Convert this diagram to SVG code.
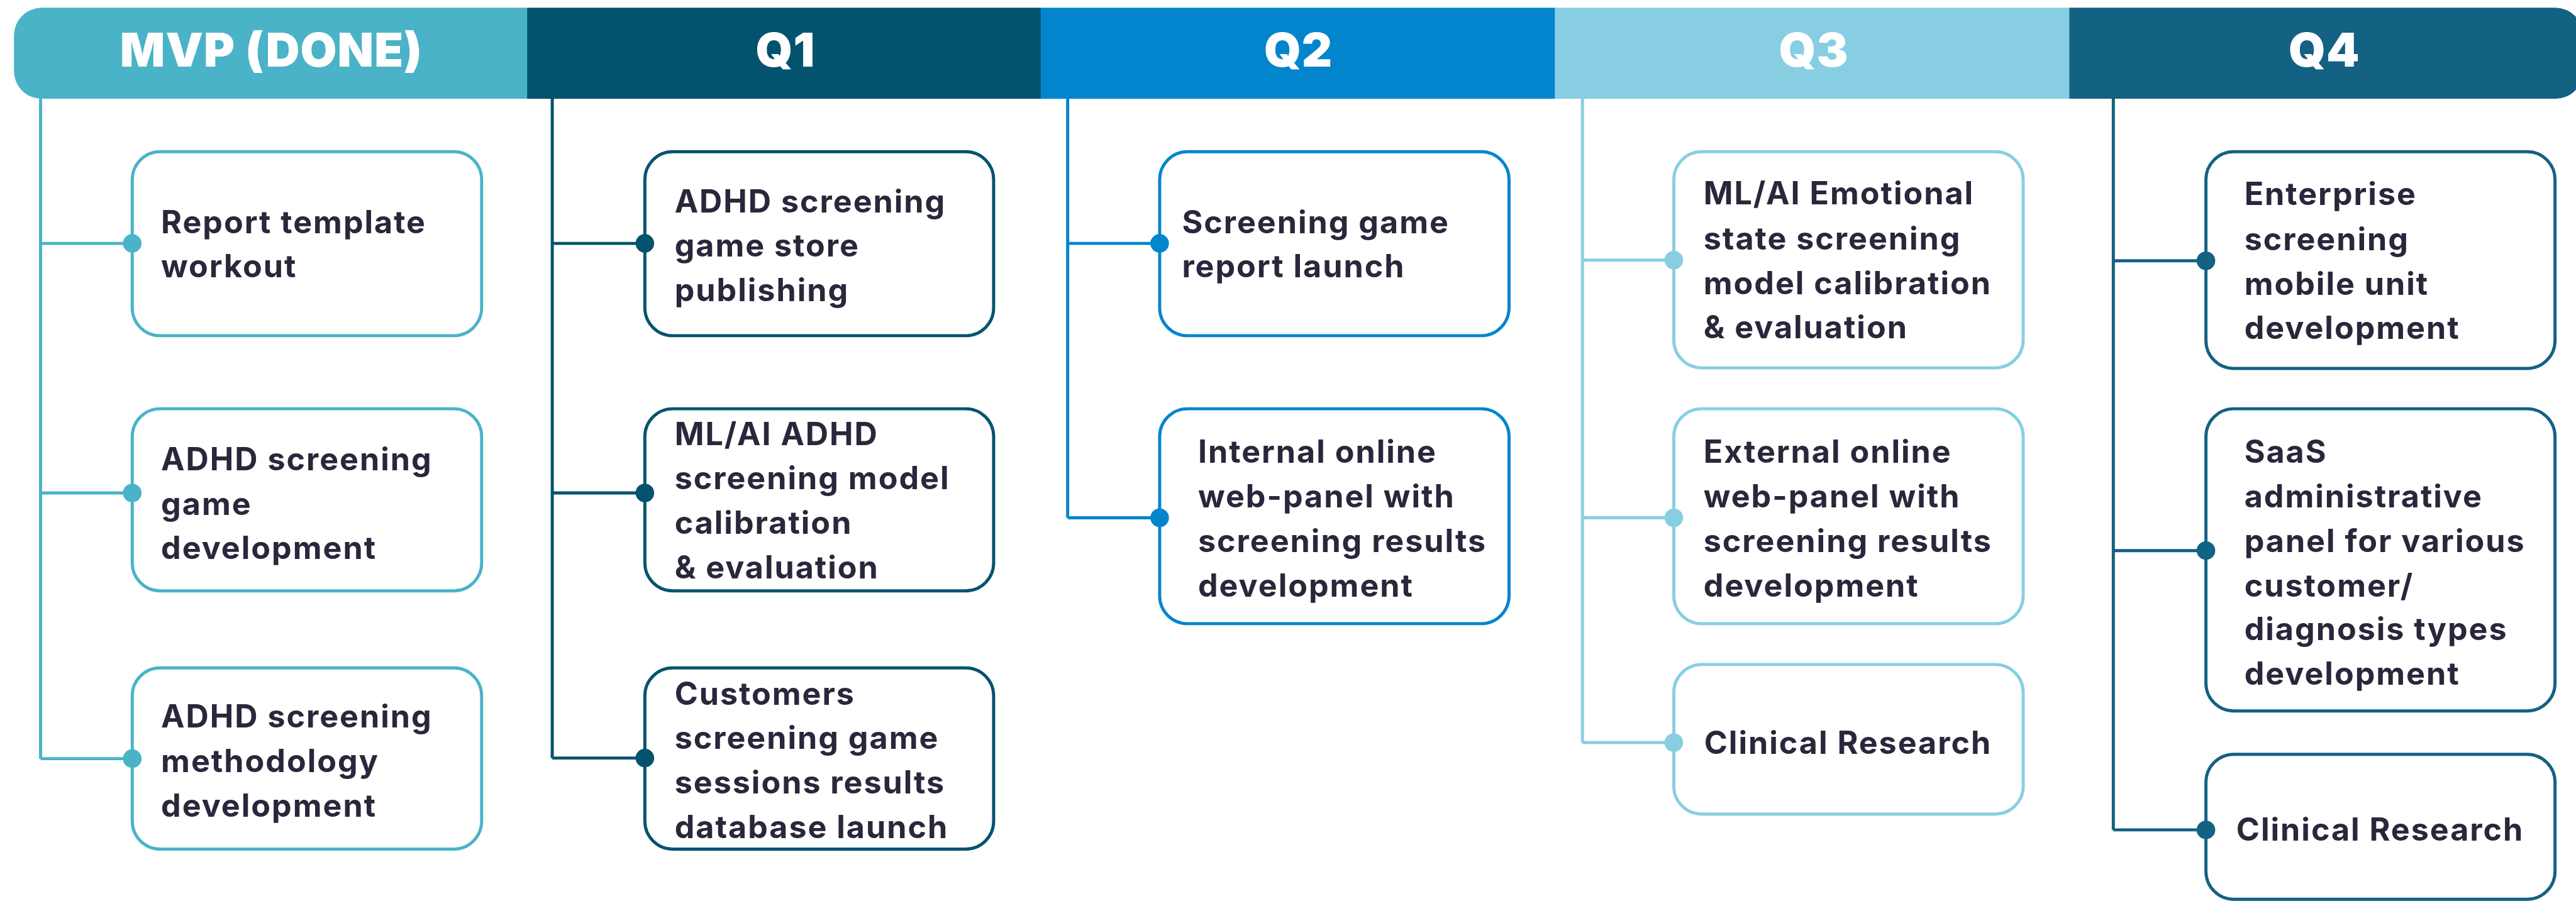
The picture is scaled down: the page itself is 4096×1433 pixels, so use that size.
<svg xmlns="http://www.w3.org/2000/svg" width="4096" height="1433" viewBox="0 0 4096 1433">
  <style>
    .band-label { font-family: Inter, "Open Sans", sans-serif; font-weight: 900; font-size: 76px; letter-spacing: 1px; fill: #ffffff; text-anchor: middle; }
    .card { fill: #ffffff; stroke-width: 5; }
    .card-text { font-family: Inter, "Open Sans", sans-serif; font-weight: 700; font-size: 51px; letter-spacing: 2px; fill: #29273b; }
    .wire { fill: none; stroke-width: 5; stroke-linecap: butt; }
    .mvp { stroke: #4ab3c8; } .mvp-fill { fill: #4ab3c8; }
    .q1 { stroke: #03536f; } .q1-fill { fill: #03536f; }
    .q2 { stroke: #0385cd; } .q2-fill { fill: #0385cd; }
    .q3 { stroke: #88cee3; } .q3-fill { fill: #88cee3; }
    .q4 { stroke: #136183; } .q4-fill { fill: #136183; }
  </style>
  <rect width="4096" height="1433" fill="#ffffff"/>
  <g transform="scale(0.985)">
    <!-- timeline header bands -->
    <g id="band-mvp">
      <path class="mvp-fill" d="M852 12.5 H67.5 A45 45 0 0 0 22.5 57.5 V114.5 A45 45 0 0 0 67.5 159.5 H852 Z"/>
      <text class="band-label" x="438" y="108">MVP (DONE)</text>
    </g>
    <g id="band-q1">
      <rect class="q1-fill" x="851" y="12.5" width="830" height="147"/>
      <text class="band-label" x="1268" y="108">Q1</text>
    </g>
    <g id="band-q2">
      <rect class="q2-fill" x="1680" y="12.5" width="831" height="147"/>
      <text class="band-label" x="2096" y="108">Q2</text>
    </g>
    <g id="band-q3">
      <rect class="q3-fill" x="2510" y="12.5" width="831" height="147"/>
      <text class="band-label" x="2928" y="108">Q3</text>
    </g>
    <g id="band-q4">
      <path class="q4-fill" d="M3340.5 12.5 H4125 A45 45 0 0 1 4170 57.5 V114.5 A45 45 0 0 1 4125 159.5 H3340.5 Z"/>
      <text class="band-label" x="3752" y="108">Q4</text>
    </g>

    <!-- MVP column -->
    <g id="mvp-report-template">
      <rect class="card mvp" x="213.5" y="245" width="564" height="297" rx="45"/>
      <text class="card-text"><tspan x="260" y="377">Report template</tspan><tspan x="260" y="448">workout</tspan></text>
    </g>
    <g id="mvp-game-development">
      <rect class="card mvp" x="213.5" y="660" width="564" height="294" rx="45"/>
      <text class="card-text"><tspan x="260" y="759">ADHD screening</tspan><tspan x="260" y="831">game</tspan><tspan x="260" y="903">development</tspan></text>
    </g>
    <g id="mvp-methodology">
      <rect class="card mvp" x="213.5" y="1078.5" width="564" height="292.5" rx="45"/>
      <text class="card-text"><tspan x="260" y="1175">ADHD screening</tspan><tspan x="260" y="1247">methodology</tspan><tspan x="260" y="1319">development</tspan></text>
    </g>

    <!-- Q1 column -->
    <g id="q1-store-publishing">
      <rect class="card q1" x="1041" y="245" width="563" height="297" rx="45"/>
      <text class="card-text"><tspan x="1089" y="343">ADHD screening</tspan><tspan x="1089" y="414">game store</tspan><tspan x="1089" y="486">publishing</tspan></text>
    </g>
    <g id="q1-model-calibration">
      <rect class="card q1" x="1041" y="660" width="563" height="294" rx="45"/>
      <text class="card-text"><tspan x="1089" y="719">ML/AI ADHD</tspan><tspan x="1089" y="790">screening model</tspan><tspan x="1089" y="862">calibration</tspan><tspan x="1089" y="934">&amp; evaluation</tspan></text>
    </g>
    <g id="q1-results-database">
      <rect class="card q1" x="1041" y="1078.5" width="563" height="292.5" rx="45"/>
      <text class="card-text"><tspan x="1089" y="1138">Customers</tspan><tspan x="1089" y="1209">screening game</tspan><tspan x="1089" y="1281">sessions results</tspan><tspan x="1089" y="1353">database launch</tspan></text>
    </g>

    <!-- Q2 column -->
    <g id="q2-report-launch">
      <rect class="card q2" x="1872" y="245" width="564" height="297" rx="45"/>
      <text class="card-text"><tspan x="1908" y="377">Screening game</tspan><tspan x="1908" y="448">report launch</tspan></text>
    </g>
    <g id="q2-internal-panel">
      <rect class="card q2" x="1872" y="660" width="564" height="347" rx="45"/>
      <text class="card-text"><tspan x="1934" y="747">Internal online</tspan><tspan x="1934" y="819">web-panel with</tspan><tspan x="1934" y="891">screening results</tspan><tspan x="1934" y="963">development</tspan></text>
    </g>

    <!-- Q3 column -->
    <g id="q3-emotional-model">
      <rect class="card q3" x="2702" y="245" width="564" height="349" rx="45"/>
      <text class="card-text"><tspan x="2750" y="330">ML/AI Emotional</tspan><tspan x="2750" y="403">state screening</tspan><tspan x="2750" y="475">model calibration</tspan><tspan x="2750" y="546">&amp; evaluation</tspan></text>
    </g>
    <g id="q3-external-panel">
      <rect class="card q3" x="2702" y="660" width="564" height="347" rx="45"/>
      <text class="card-text"><tspan x="2750" y="747">External online</tspan><tspan x="2750" y="819">web-panel with</tspan><tspan x="2750" y="891">screening results</tspan><tspan x="2750" y="963">development</tspan></text>
    </g>
    <g id="q3-clinical-research">
      <rect class="card q3" x="2702" y="1073" width="564" height="241.5" rx="45"/>
      <text class="card-text" x="2751" y="1217">Clinical Research</text>
    </g>

    <!-- Q4 column -->
    <g id="q4-mobile-unit">
      <rect class="card q4" x="3561" y="245" width="563.5" height="350" rx="45"/>
      <text class="card-text"><tspan x="3623" y="331">Enterprise</tspan><tspan x="3623" y="404">screening</tspan><tspan x="3623" y="476">mobile unit</tspan><tspan x="3623" y="547">development</tspan></text>
    </g>
    <g id="q4-saas-panel">
      <rect class="card q4" x="3561" y="660" width="563.5" height="488" rx="45"/>
      <text class="card-text"><tspan x="3623" y="747">SaaS</tspan><tspan x="3623" y="819">administrative</tspan><tspan x="3623" y="891">panel for various</tspan><tspan x="3623" y="963">customer/</tspan><tspan x="3623" y="1034">diagnosis types</tspan><tspan x="3623" y="1106">development</tspan></text>
    </g>
    <g id="q4-clinical-research">
      <rect class="card q4" x="3561" y="1218" width="563.5" height="234" rx="45"/>
      <text class="card-text" x="3610" y="1357">Clinical Research</text>
    </g>

    <!-- connectors: column spines, branches and junction dots (drawn over the card borders) -->
    <g id="connectors">
      <path class="wire mvp" d="M65.5 159 V1225 M65.5 393 H213.5 M65.5 796 H213.5 M65.5 1225 H213.5"/>
      <circle class="mvp-fill" cx="213.5" cy="393" r="15"/>
      <circle class="mvp-fill" cx="213.5" cy="796" r="15"/>
      <circle class="mvp-fill" cx="213.5" cy="1225" r="15"/>

      <path class="wire q1" d="M891.5 159 V1224 M891.5 393 H1041 M891.5 796 H1041 M891.5 1224 H1041"/>
      <circle class="q1-fill" cx="1041" cy="393" r="15"/>
      <circle class="q1-fill" cx="1041" cy="796" r="15"/>
      <circle class="q1-fill" cx="1041" cy="1224" r="15"/>

      <path class="wire q2" d="M1723.5 159 V836 M1723.5 393 H1872 M1723.5 836 H1872"/>
      <circle class="q2-fill" cx="1872" cy="393" r="15"/>
      <circle class="q2-fill" cx="1872" cy="836" r="15"/>

      <path class="wire q3" d="M2554.5 159 V1199 M2554.5 420 H2702 M2554.5 836 H2702 M2554.5 1199 H2702"/>
      <circle class="q3-fill" cx="2702" cy="420" r="15"/>
      <circle class="q3-fill" cx="2702" cy="836" r="15"/>
      <circle class="q3-fill" cx="2702" cy="1199" r="15"/>

      <path class="wire q4" d="M3411.5 159 V1340 M3411.5 421 H3561 M3411.5 889 H3561 M3411.5 1340 H3561"/>
      <circle class="q4-fill" cx="3561" cy="421" r="15"/>
      <circle class="q4-fill" cx="3561" cy="889" r="15"/>
      <circle class="q4-fill" cx="3561" cy="1340" r="15"/>
    </g>
  </g>
</svg>
